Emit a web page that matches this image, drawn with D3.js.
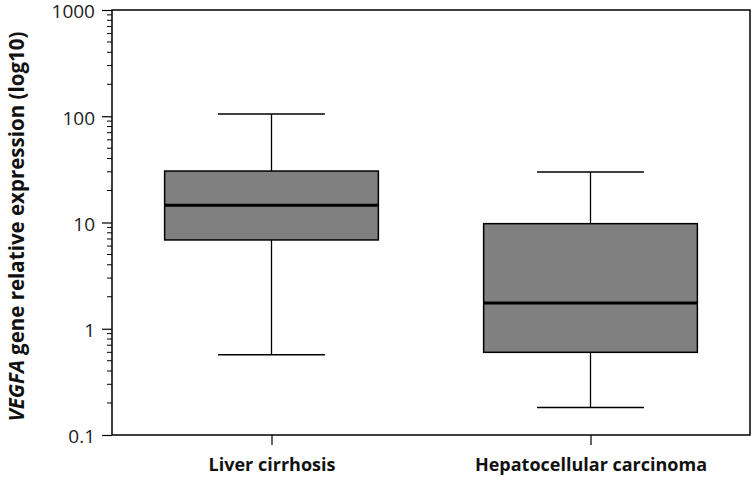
<!DOCTYPE html>
<html>
<head>
<meta charset="utf-8">
<script src="https://cdn.jsdelivr.net/npm/d3@7"></script>
<style>
  body { margin: 0; background: #fff; }
  svg text { font-family: "Open Sans", "Noto Sans", sans-serif; }
</style>
</head>
<body>
<div id="chart"></div>
<script>
// box plot values (log scale)
const groups = ["Liver cirrhosis", "Hepatocellular carcinoma"];
const whiskerLow = [0.57, 0.181];
const q1 = [6.85, 0.60];
const median = [14.5, 1.75];
const q3 = [30.5, 9.75];
const whiskerHigh = [105, 29.9];
const yTicks = [0.1, 1, 10, 100, 1000];

const width = 752, height = 484;
const margin = { top: 10, right: 2, bottom: 49, left: 112 };

const svg = d3.select("#chart").append("svg")
    .attr("width", width)
    .attr("height", height);

const x = d3.scalePoint()
    .domain(groups)
    .range([margin.left, width - margin.right])
    .padding(0.5);

const y = d3.scaleLog()
    .domain([0.1, 1000])
    .range([height - margin.bottom, margin.top]);

const boxW = x.step() * 0.67;
const capW = boxW * 0.5;

// minor ticks
const minor = [];
for (let e = -1; e < 3; e++) {
    for (let m = 2; m <= 9; m++) minor.push(m * Math.pow(10, e));
}
svg.append("g")
    .selectAll("line")
    .data(minor)
    .enter()
    .append("line")
    .attr("x1", margin.left - 5)
    .attr("x2", margin.left)
    .attr("y1", d => y(d))
    .attr("y2", d => y(d))
    .attr("stroke", "#000")
    .attr("stroke-width", 1);

// y axis
const yAxis = svg.append("g")
    .attr("transform", `translate(${margin.left},0)`)
    .call(d3.axisLeft(y).tickValues(yTicks).tickFormat(d => d === 0.1 ? "0.1" : d3.format("d")(d)).tickSize(10).tickPadding(7));
yAxis.select(".domain").remove();
yAxis.selectAll("line").attr("stroke", "#000").attr("stroke-width", 1.2);
yAxis.selectAll("text")
    .attr("font-size", 19)
    .attr("dy", "0.42em")
    .attr("fill", "#222");

// x axis
const xAxis = svg.append("g")
    .attr("transform", `translate(0,${height - margin.bottom})`)
    .call(d3.axisBottom(x).tickSize(10).tickPadding(13));
xAxis.select(".domain").remove();
xAxis.selectAll("line").attr("stroke", "#000").attr("stroke-width", 1.2);
xAxis.selectAll("text")
    .attr("font-size", 18)
    .attr("font-weight", "bold")
    .attr("fill", "#111");

// frame
svg.append("rect")
    .attr("x", margin.left)
    .attr("y", margin.top)
    .attr("width", width - margin.right - margin.left)
    .attr("height", height - margin.bottom - margin.top)
    .attr("fill", "none")
    .attr("stroke", "#000")
    .attr("stroke-width", 1.5);

// boxes
const boxes = svg.append("g")
    .selectAll("g")
    .data(groups)
    .enter()
    .append("g");

boxes.append("line")
    .attr("x1", d => x(d))
    .attr("x2", d => x(d))
    .attr("y1", (d, i) => y(whiskerHigh[i]))
    .attr("y2", (d, i) => y(whiskerLow[i]))
    .attr("stroke", "#000")
    .attr("stroke-width", 1.3);

boxes.selectAll(".cap")
    .data((d, i) => [{ g: d, v: whiskerHigh[i] }, { g: d, v: whiskerLow[i] }])
    .enter()
    .append("line")
    .attr("class", "cap")
    .attr("x1", d => x(d.g) - capW / 2)
    .attr("x2", d => x(d.g) + capW / 2)
    .attr("y1", d => y(d.v))
    .attr("y2", d => y(d.v))
    .attr("stroke", "#000")
    .attr("stroke-width", 1.5);

boxes.append("rect")
    .attr("x", d => x(d) - boxW / 2)
    .attr("y", (d, i) => y(q3[i]))
    .attr("width", boxW)
    .attr("height", (d, i) => y(q1[i]) - y(q3[i]))
    .attr("fill", "#808080")
    .attr("stroke", "#000")
    .attr("stroke-width", 1.5);

boxes.append("line")
    .attr("x1", d => x(d) - boxW / 2)
    .attr("x2", d => x(d) + boxW / 2)
    .attr("y1", (d, i) => y(median[i]))
    .attr("y2", (d, i) => y(median[i]))
    .attr("stroke", "#000")
    .attr("stroke-width", 3);

// y label
const yl = svg.append("text")
    .attr("transform", `translate(24,${(margin.top + height - margin.bottom) / 2 + 4}) rotate(-90)`)
    .attr("text-anchor", "middle")
    .attr("font-size", 20.5)
    .attr("font-weight", "bold")
    .attr("fill", "#111");
yl.append("tspan").attr("font-style", "italic").text("VEGFA");
yl.append("tspan").text(" gene relative expression (log10)");
</script>
</body>
</html>
